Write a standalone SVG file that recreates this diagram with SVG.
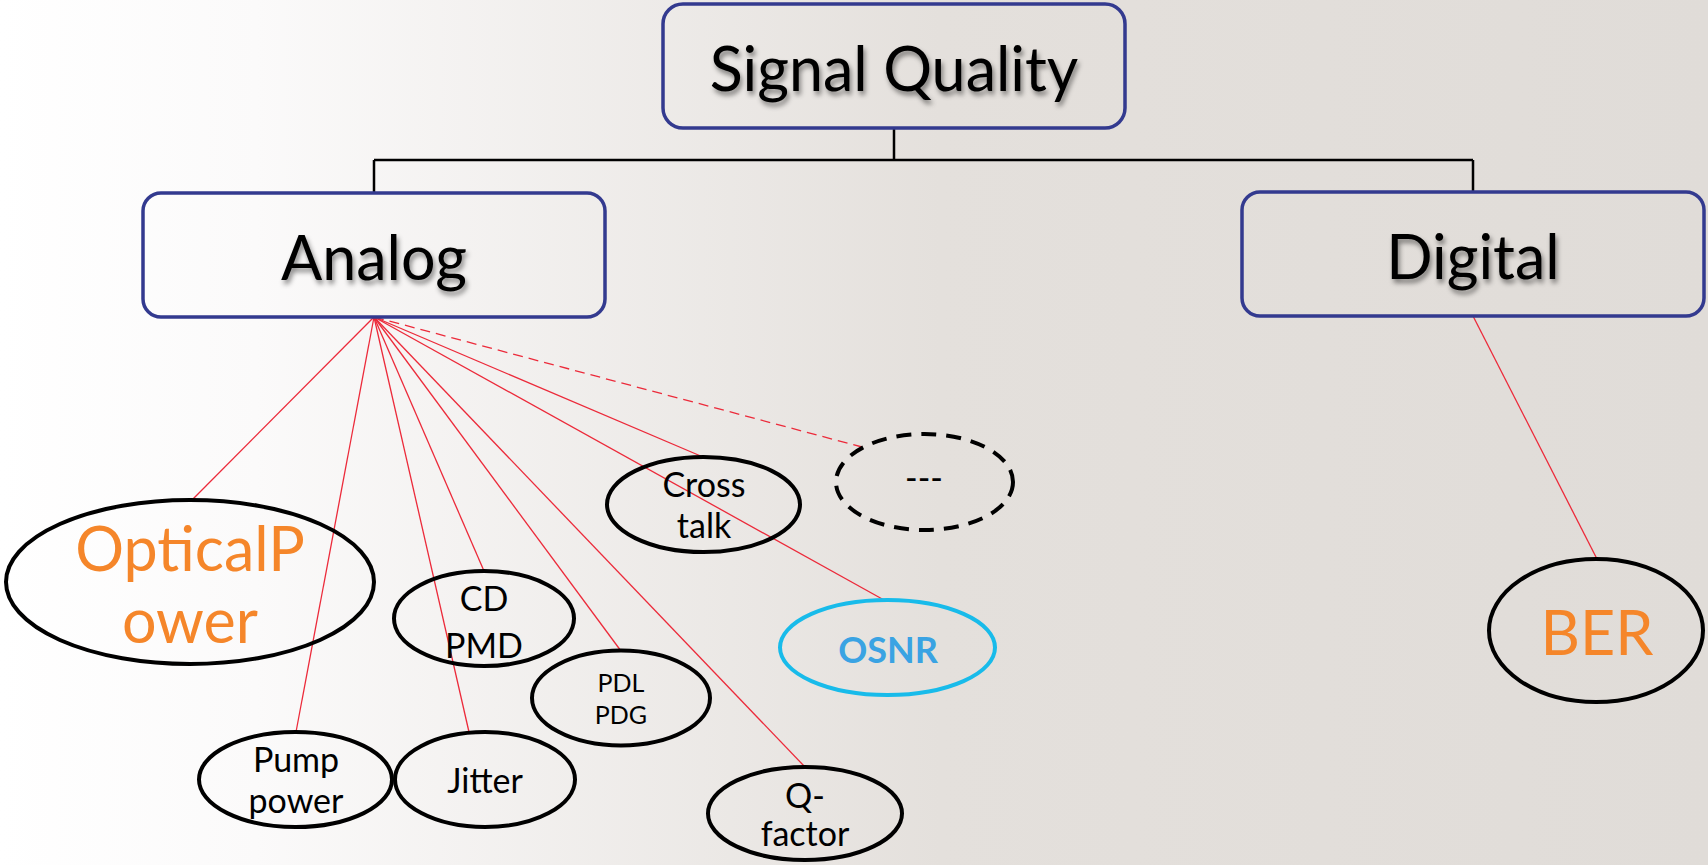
<svg xmlns="http://www.w3.org/2000/svg" width="1708" height="865" viewBox="0 0 1708 865">
<defs>
<linearGradient id="bg" x1="0" y1="0" x2="1" y2="0">
<stop offset="0" stop-color="#ffffff"/>
<stop offset="0.15" stop-color="#fbfafa"/>
<stop offset="0.55" stop-color="#e4e0dc"/>
<stop offset="1" stop-color="#e0dcd8"/>
</linearGradient>
<filter id="sh" x="-10%" y="-20%" width="120%" height="150%">
<feDropShadow dx="2" dy="4" stdDeviation="2.5" flood-color="#000" flood-opacity="0.45"/>
</filter>
<style>
.box{fill:none;stroke:#333a8f;stroke-width:3.5}
.tree{fill:none;stroke:#000;stroke-width:2.5}
.con{stroke:#ec2a3a;stroke-width:1.3;fill:none}
.ell{fill:none;stroke:#000;stroke-width:4}
.t{font-family:Lato,"Liberation Sans",sans-serif;text-anchor:middle;fill:#000}
.big{font-size:61px}
.mid{font-size:34px}
.org{fill:#f5862a}
</style>
</defs>
<rect width="1708" height="865" fill="url(#bg)"/>
<g id="connectors">
<path class="tree" d="M894 128V160M374 160H1473M374 160V193M1473 160V192"/>
<line class="con" x1="374" y1="317" x2="192" y2="500"/>
<line class="con" x1="374" y1="317" x2="296" y2="732"/>
<line class="con" x1="374" y1="317" x2="469" y2="732"/>
<line class="con" x1="374" y1="317" x2="484" y2="571"/>
<line class="con" x1="374" y1="317" x2="621" y2="651"/>
<line class="con" x1="374" y1="317" x2="805" y2="767"/>
<line class="con" x1="374" y1="317" x2="703" y2="457"/>
<line class="con" x1="374" y1="317" x2="884" y2="600"/>
<line class="con" x1="374" y1="317" x2="862" y2="447" stroke-dasharray="10,6"/>
<line class="con" x1="1473" y1="316" x2="1597" y2="559"/>
</g>
<g id="signal-quality">
<rect class="box" x="663" y="4" width="462" height="124" rx="20"/>
<text class="t big" x="894" y="91" filter="url(#sh)">Signal Quality</text>
</g>
<g id="analog">
<rect class="box" x="143" y="193" width="462" height="124" rx="18"/>
<text class="t big" x="374" y="280" filter="url(#sh)">Analog</text>
</g>
<g id="digital">
<rect class="box" x="1242" y="192" width="462" height="124" rx="18"/>
<text class="t big" x="1473" y="279" filter="url(#sh)">Digital</text>
</g>
<g id="optical-power">
<ellipse class="ell" cx="190" cy="582" rx="184" ry="82"/>
<text class="t big org" x="190" y="571">OpticalP</text>
<text class="t big org" x="190" y="643">ower</text>
</g>
<g id="pump-power">
<ellipse class="ell" cx="295.5" cy="779.5" rx="96.5" ry="47.5"/>
<text class="t mid" x="296" y="772">Pump</text>
<text class="t mid" x="296" y="813">power</text>
</g>
<g id="jitter">
<ellipse class="ell" cx="485" cy="779.5" rx="90" ry="47.5"/>
<text class="t mid" x="485" y="793">Jitter</text>
</g>
<g id="cd-pmd">
<ellipse class="ell" cx="484" cy="618.5" rx="90" ry="47.5"/>
<text class="t mid" x="484" y="611">CD</text>
<text class="t mid" x="484" y="658">PMD</text>
</g>
<g id="pdl-pdg">
<ellipse class="ell" cx="621" cy="698" rx="89" ry="47.5"/>
<text class="t" font-size="25" x="621" y="692">PDL</text>
<text class="t" font-size="25" x="621" y="724">PDG</text>
</g>
<g id="cross-talk">
<ellipse class="ell" cx="703.5" cy="504.5" rx="96.5" ry="47.5"/>
<text class="t mid" x="704" y="497">Cross</text>
<text class="t mid" x="704" y="538">talk</text>
</g>
<g id="more">
<ellipse class="ell" cx="924.5" cy="482" rx="88.5" ry="48" stroke-dasharray="15,10"/>
<text class="t mid" x="924" y="490">---</text>
</g>
<g id="osnr">
<ellipse cx="887.5" cy="647.5" rx="107.5" ry="47.5" fill="none" stroke="#18bbea" stroke-width="4"/>
<text class="t" font-size="36" font-weight="bold" x="888" y="663" style="fill:#3aa3e3">OSNR</text>
</g>
<g id="q-factor">
<ellipse class="ell" cx="805" cy="813.5" rx="97" ry="46.5"/>
<text class="t mid" x="805" y="808">Q-</text>
<text class="t mid" x="805" y="846">factor</text>
</g>
<g id="ber">
<ellipse class="ell" cx="1596" cy="630.5" rx="107" ry="71.5"/>
<text class="t big org" x="1597" y="655">BER</text>
</g>
</svg>
